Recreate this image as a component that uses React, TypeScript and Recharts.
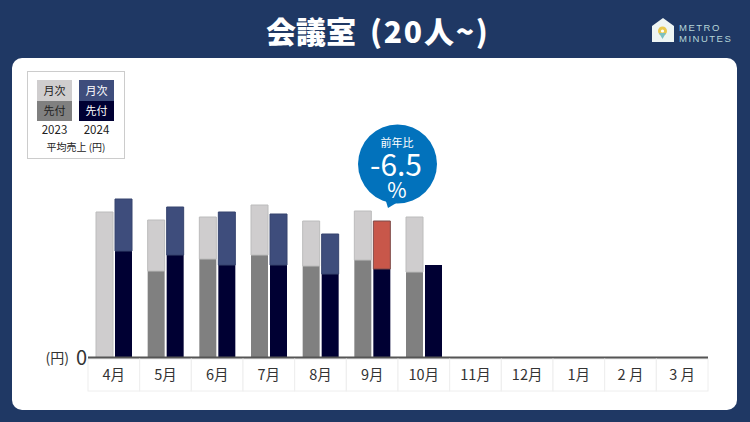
import { BarChart, Bar, XAxis, YAxis, Cell } from "recharts";

const months = ["4月", "5月", "6月", "7月", "8月", "9月", "10月", "11月", "12月", "1月", "2 月", "3 月"];
// 千円
const advance2023 = [0, 87, 99, 103, 92, 98, 86];
const monthly2023 = [146, 51, 42, 50, 45, 49, 55];
const advance2024 = [107, 103, 93, 93, 84, 89, 93];
const monthly2024 = [52, 48, 53, 51, 40, 48, 0];
const highlightMonth = "9月";

const data = months.map((month, i) => ({
  month,
  advance2023: advance2023[i],
  monthly2023: monthly2023[i],
  advance2024: advance2024[i],
  monthly2024: monthly2024[i],
}));

const font = "'Noto Sans CJK JP', sans-serif";

function MonthTick({ x, y, payload }: any) {
  const w = 620 / 12;
  return (
    <g>
      <rect x={x - w / 2} y={y - 7} width={w} height={32} fill="#fff" stroke="#eeeeee" strokeWidth={1} />
      <text x={x} y={y + 14} textAnchor="middle" fontSize={14.5} fill="#333" fontFamily={font}>
        {payload.value}
      </text>
    </g>
  );
}

function ZeroTick({ x, y, payload }: any) {
  return (
    <g fontFamily={font}>
      <text x={x - 11} y={y + 5} textAnchor="end" fontSize={14} fill="#333">(円)</text>
      <text x={x + 7} y={y + 7} textAnchor="end" fontSize={20} fill="#333">{payload.value}</text>
    </g>
  );
}

function Legend() {
  const swatch = (x: number, top: string, bottom: string, color: string, year: string) => (
    <g>
      <rect x={x} y={80} width={35} height={21} fill={top} />
      <rect x={x} y={101} width={35} height={20} fill={bottom} />
      <text x={x + 17.5} y={94.5} textAnchor="middle" fontSize={11} fill={color}>月次</text>
      <text x={x + 17.5} y={115} textAnchor="middle" fontSize={11} fill={color}>先付</text>
      <text x={x + 17.5} y={134} textAnchor="middle" fontSize={11.5} fill="#222">{year}</text>
    </g>
  );
  return (
    <g fontFamily={font}>
      <rect x={27.5} y={71.5} width={97} height={87} fill="#fff" stroke="#cccccc" />
      {swatch(37, "#cfcdce", "#808080", "#222", "2023")}
      {swatch(79, "#3e4d7c", "#000033", "#fff", "2024")}
      <text x={76} y={151} textAnchor="middle" fontSize={10} fill="#222">平均売上 (円)</text>
    </g>
  );
}

function Callout() {
  return (
    <g fontFamily={font} textAnchor="middle" fill="#fff">
      <circle cx={397.5} cy={164} r={39.5} fill="#0272bc" />
      <path d="M385 198 L388 208 L398 202 Z" fill="#0272bc" />
      <text x={397} y={147} fontSize={11}>前年比</text>
      <text x={396} y={176} fontSize={30}>-6.5</text>
      <text x={397} y={198} fontSize={21}>%</text>
    </g>
  );
}

function Logo() {
  return (
    <g>
      <path d="M652 26 L663 18 L674 26 L674 42 L652 42 Z" fill="#eef5f3" />
      <circle cx={662.5} cy={31} r={4.5} fill="#e9c94e" />
      <path d="M659 33 L662.5 39 L666 33 Z" fill="#7cc0c0" />
      <circle cx={662.5} cy={31} r={1.6} fill="#fff" />
      <g fontFamily="'Liberation Sans', sans-serif" fontSize={9.5} letterSpacing={1.5} fill="#b6d6d8">
        <text x={679} y={31}>METRO</text>
        <text x={679} y={42}>MINUTES</text>
      </g>
    </g>
  );
}

export default function App() {
  return (
    <div style={{ position: "relative", width: 750, height: 422, background: "#1f3864", overflow: "hidden" }}>
      <style>{`body{margin:0}`}</style>
      <div style={{ position: "absolute", left: 12, top: 58, width: 725, height: 352, background: "#fff", borderRadius: 10 }} />
      <div style={{ position: "absolute", left: 0, top: 0 }}>
        <BarChart
          width={750}
          height={422}
          data={data}
          barSize={17}
          barGap={2}
          margin={{ top: 158, right: 42, left: 0, bottom: 0 }}
        >
          <XAxis
            dataKey="month"
            height={64}
            interval={0}
            axisLine={{ stroke: "#555555", strokeWidth: 3 }}
            tickLine={false}
            tick={<MonthTick />}
          />
          <YAxis
            width={88}
            domain={[0, 200]}
            ticks={[0]}
            axisLine={false}
            tickLine={false}
            tick={<ZeroTick />}
          />
          <Bar dataKey="advance2023" stackId="y2023" fill="#808080" isAnimationActive={false} />
          <Bar dataKey="monthly2023" stackId="y2023" fill="#cfcdce" stroke="#bcbcbc" isAnimationActive={false} />
          <Bar dataKey="advance2024" stackId="y2024" fill="#000033" isAnimationActive={false} />
          <Bar dataKey="monthly2024" stackId="y2024" fill="#3e4d7c" isAnimationActive={false}>
            {data.map((d) => (
              <Cell
                key={d.month}
                fill={d.month === highlightMonth ? "#c8574a" : "#3e4d7c"}
                stroke={d.month === highlightMonth ? "#7d4a48" : "#36446f"}
              />
            ))}
          </Bar>
        </BarChart>
      </div>
      <svg width={750} height={422} style={{ position: "absolute", left: 0, top: 0 }}>
        <text x={266} y={43} fontSize={30} fontWeight={900} fill="#fff" fontFamily={font}>
          <tspan>会議室</tspan>
          <tspan dx={14} letterSpacing={1.8}>(20人~)</tspan>
        </text>
        <Logo />
        <Legend />
        <Callout />
      </svg>
    </div>
  );
}
